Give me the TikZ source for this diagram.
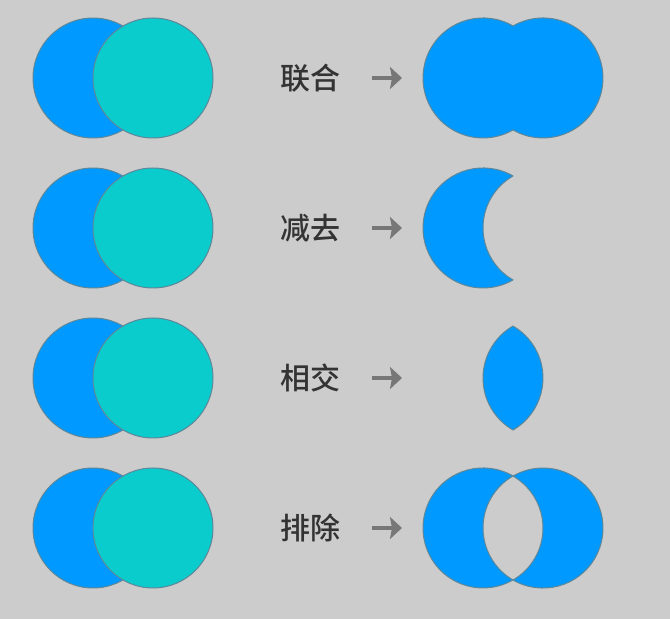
\documentclass[tikz,border=0pt]{standalone}
\usepackage{fontspec}
\newfontfamily\cjk{Noto Sans CJK SC Medium}
\usetikzlibrary{arrows.meta}
\definecolor{bgray}{HTML}{CCCCCC}
\definecolor{setblue}{HTML}{0099FF}
\definecolor{setteal}{HTML}{0ACCCC}
\definecolor{rim}{HTML}{5E8799}
\definecolor{ink}{HTML}{333333}
\definecolor{arrgray}{HTML}{777777}

\begin{document}
\begin{tikzpicture}
[
x=1pt,y=1pt,
seta/.style={circle,fill=setblue,draw=rim,line width=1pt,minimum size=120pt,inner sep=0pt},
setb/.style={circle,fill=setteal,draw=rim,line width=1pt,minimum size=120pt,inner sep=0pt},
result/.style={fill=setblue,draw=rim,line width=1pt,line join=round},
oplabel/.style={text=ink,font=\cjk\fontsize{30}{36}\selectfont,inner sep=0pt},
oparrow/.style={draw=arrgray,line width=4pt,-{Stealth[length=12pt,width=22pt,inset=2pt]}},
]
\useasboundingbox[fill=bgray] (0,0) rectangle (670,619);

%Place the input circles
\node[seta] (a1) at (93,541) {};
\node[setb] (b1) at (153,541) {};
\node[seta] (a2) at (93,391) {};
\node[setb] (b2) at (153,391) {};
\node[seta] (a3) at (93,241) {};
\node[setb] (b3) at (153,241) {};
\node[seta] (a4) at (93,91) {};
\node[setb] (b4) at (153,91) {};

%Place the labels and arrow ends
\node[oplabel] (union) at (310,541) {联合};
\node[oplabel] (minus) at (310,391) {减去};
\node[oplabel] (inter) at (310,241) {相交};
\node[oplabel] (xor) at (310,91) {排除};
\coordinate (s1) at (372,541); \coordinate (e1) at (402,541);
\coordinate (s2) at (372,391); \coordinate (e2) at (402,391);
\coordinate (s3) at (372,241); \coordinate (e3) at (402,241);
\coordinate (s4) at (372,91); \coordinate (e4) at (402,91);

%Draw the arrows
\draw[oparrow] (s1) -- (e1);
\draw[oparrow] (s2) -- (e2);
\draw[oparrow] (s3) -- (e3);
\draw[oparrow] (s4) -- (e4);

%Draw the results
\path[result] (513,593) arc[start angle=60,end angle=300,radius=60]
  arc[start angle=-120,end angle=120,radius=60] -- cycle;
\path[result] (513,443) arc[start angle=60,end angle=300,radius=60]
  arc[start angle=240,end angle=120,radius=60] -- cycle;
\path[result] (513,189) arc[start angle=-60,end angle=60,radius=60]
  arc[start angle=120,end angle=240,radius=60] -- cycle;
\path[result] (513,143) arc[start angle=60,end angle=300,radius=60]
  arc[start angle=240,end angle=120,radius=60] -- cycle;
\path[result] (513,39) arc[start angle=-120,end angle=120,radius=60]
  arc[start angle=60,end angle=-60,radius=60] -- cycle;
\end{tikzpicture}
\end{document}
